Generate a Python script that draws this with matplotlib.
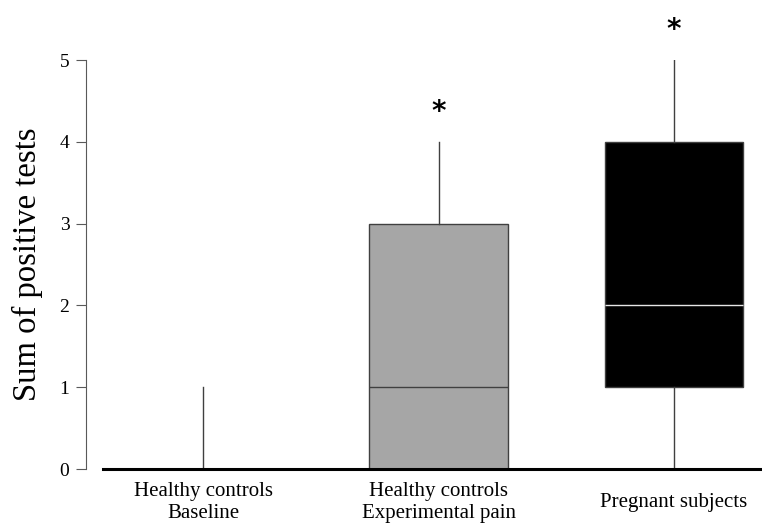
import matplotlib.pyplot as plt

# ── Data ──────────────────────────────────────────────────────────────────────
GROUPS = ["Healthy controls\nBaseline",
          "Healthy controls\nExperimental pain",
          "Pregnant subjects"]
WHIS_LO = [0, 0, 0]
Q1 = [0, 0, 1]
MEDIAN = [0, 1, 2]
Q3 = [0, 3, 4]
WHIS_HI = [1, 4, 5]
SIGNIF = ["", "*", "*"]

FILL_COLORS = ["#ffffff", "#a6a6a6", "#000000"]
MEDIAN_COLORS = ["#404040", "#404040", "#e6e6e6"]

plt.rcParams["font.family"] = ["Liberation Serif", "DejaVu Serif"]

fig = plt.figure(figsize=(7.62, 5.27), dpi=100)
ax = fig.add_axes([0.113, 0.110, 0.887, 0.776])

stats = []
for i, name in enumerate(GROUPS):
    stats.append({"label": name, "whislo": WHIS_LO[i], "q1": Q1[i],
                  "med": MEDIAN[i], "q3": Q3[i], "whishi": WHIS_HI[i]})

bp = ax.bxp(stats, positions=range(len(GROUPS)), widths=0.59,
            showfliers=False, showcaps=False, patch_artist=True,
            boxprops=dict(edgecolor="#404040", linewidth=1.0),
            whiskerprops=dict(color="#404040", linewidth=1.0),
            medianprops=dict(linewidth=1.0))

for patch, fc in zip(bp["boxes"], FILL_COLORS):
    patch.set_facecolor(fc)
for med, mc in zip(bp["medians"], MEDIAN_COLORS):
    med.set_color(mc)

# significance stars
for i, s in enumerate(SIGNIF):
    if s:
        ax.text(i, WHIS_HI[i] + 0.37, s, ha="center", va="center",
                fontsize=20, fontweight="bold", family="DejaVu Sans",
                clip_on=False)

ax.set_xlim(-0.497, 2.374)
ax.set_ylim(0, 5)
ax.set_yticks(range(6))
ax.set_ylabel("Sum of positive tests", fontsize=23.5, labelpad=12)

ax.spines["top"].set_visible(False)
ax.spines["right"].set_visible(False)
ax.spines["left"].set_color("#595959")
ax.spines["left"].set_linewidth(0.8)
ax.spines["bottom"].set_bounds(-0.425, 2.374)
ax.spines["bottom"].set_linewidth(2.2)
ax.spines["bottom"].set_zorder(5)

ax.tick_params(axis="y", direction="out", length=7, color="#595959",
               labelsize=14, pad=5)
ax.tick_params(axis="x", length=0, labelsize=15, pad=24)
for lbl in ax.get_xticklabels():
    lbl.set_verticalalignment("center")

fig.savefig("out.png", dpi=100)
plt.close()
